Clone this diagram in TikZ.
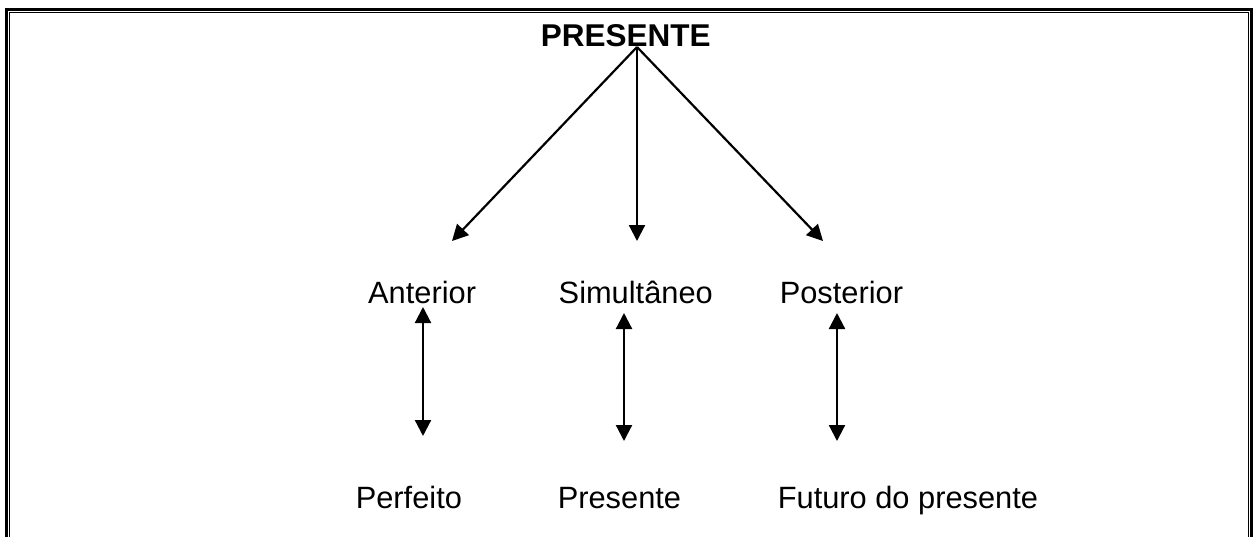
\documentclass[tikz,border=0pt]{standalone}
\usepackage{fontspec}
\setmainfont{Liberation Sans}
\usetikzlibrary{arrows.meta}
\begin{document}
\begin{tikzpicture}[x=1pt,y=-1pt,
  lbl/.style={anchor=base west,inner sep=0pt,font=\fontsize{30.8}{36}\selectfont},
  ttl/.style={anchor=base west,inner sep=0pt,font=\fontsize{31.5}{36}\selectfont\bfseries},
  tip/.tip={Triangle[length=16pt,width=16pt]},
  conn/.style={line width=2.2pt,-tip},
  dconn/.style={line width=2.2pt,tip-tip}]
\useasboundingbox (0,0) rectangle (1253,536);
% border
\draw[line width=2.8pt] (6.7,545) -- (6.7,9.5) -- (1251.3,9.5) -- (1251.3,545);
\draw[line width=1.2pt] (9.8,545) -- (9.8,12.7) -- (1248.3,12.7) -- (1248.3,545);
% texts
\node[ttl] (pres) at (540.7,46) {PRESENTE};
\node[lbl] (ant) at (368,303) {Anterior};
\node[lbl] (sim) at (558.5,303) {Simultâneo};
\node[lbl] (post) at (779.6,303) {Posterior};
\node[lbl] (perf) at (355.6,508.5) {Perfeito};
\node[lbl] (presn) at (557.6,508.5) {Presente};
\node[lbl] (fut) at (777.6,508.5) {Futuro do presente};
% connector coordinates
\coordinate (apex) at (637,47);
\coordinate (tA) at (452,241);
\coordinate (tS) at (637,241);
\coordinate (tP) at (823,241);
\coordinate (a1) at (423,307);
\coordinate (a2) at (423,436);
\coordinate (s1) at (624,313);
\coordinate (s2) at (624,441);
\coordinate (p1) at (837,313);
\coordinate (p2) at (837,441);
\draw[conn] (apex) -- (tA);
\draw[conn] (apex) -- (tS);
\draw[conn] (apex) -- (tP);
\draw[dconn] (a1) -- (a2);
\draw[dconn] (s1) -- (s2);
\draw[dconn] (p1) -- (p2);
\end{tikzpicture}
\end{document}
